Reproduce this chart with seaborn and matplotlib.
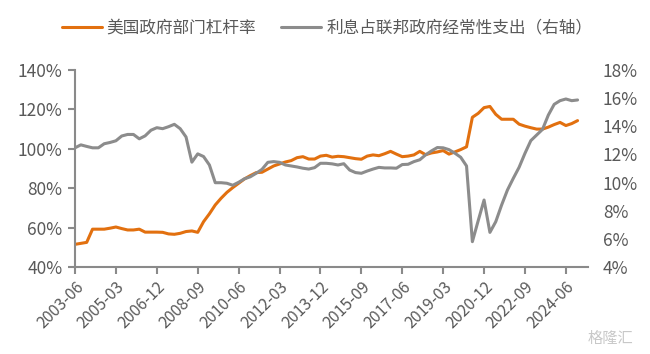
import matplotlib
matplotlib.use("Agg")
import matplotlib.pyplot as plt
import seaborn as sns
import pandas as pd
import numpy as np

# ---- data ----
quarters = [str(p.end_time.date())[:7] for p in pd.period_range("2003Q2", "2024Q4", freq="Q")]

leverage = [51.5, 52, 52.5, 59.2, 59.2, 59.2, 59.7, 60.3, 59.5, 58.8,
            58.8, 59.2, 57.7, 57.7, 57.7, 57.6, 56.8, 56.6, 57.1, 58,
            58.3, 57.6, 63, 67, 71.5, 74.9, 77.9, 80.3, 82.5, 84.7,
            86.4, 87.9, 88.1, 89.7, 91.3, 92.3, 93.3, 94, 95.5, 96,
            94.8, 94.8, 96.3, 96.7, 95.8, 96.2, 96.0, 95.5, 95.0, 94.7,
            96.3, 96.9, 96.5, 97.5, 98.7, 97.3, 96.0, 96.3, 96.9, 98.7,
            97.0, 97.9, 98.4, 99.1, 97.3, 98.4, 99.6, 101, 116, 118,
            120.9, 121.5, 117.5, 115, 115, 115, 112.5, 111.5, 110.7, 110,
            110, 111, 112.3, 113.4, 111.8, 112.8, 114.3]

interest_share = [12.47, 12.68, 12.57, 12.47, 12.47, 12.76, 12.85, 12.97, 13.31, 13.42,
                  13.42, 13.11, 13.32, 13.72, 13.90, 13.83, 13.97, 14.14, 13.83, 13.24,
                  11.45, 12.04, 11.85, 11.25, 9.99, 9.99, 9.95, 9.81, 10.02, 10.27,
                  10.41, 10.66, 10.94, 11.44, 11.49, 11.44, 11.25, 11.18, 11.11, 11.02,
                  10.96, 11.06, 11.37, 11.37, 11.33, 11.25, 11.34, 10.89, 10.71, 10.66,
                  10.82, 10.96, 11.08, 11.04, 11.04, 11.02, 11.28, 11.30, 11.49, 11.62,
                  11.97, 12.25, 12.49, 12.47, 12.34, 12.09, 11.8, 11.18, 5.8, 7.3,
                  8.76, 6.46, 7.22, 8.4, 9.47, 10.3, 11.09, 12.08, 12.98, 13.38,
                  13.78, 14.8, 15.56, 15.82, 15.94, 15.82, 15.87]

label_left = "美国政府部门杠杆率"
label_right = "利息占联邦政府经常性支出（右轴）"
tick_step = 7

# ---- style ----
sns.set_theme(style="white")
plt.rcParams["font.family"] = ["Noto Sans CJK SC", "DejaVu Sans"]

ORANGE = "#E2700F"
GRAY = "#8C8C8C"
TEXT = "#595959"
AXIS = "#8A8A8A"

df = pd.DataFrame({"idx": np.arange(len(quarters)), "q": quarters,
                   "lev": leverage, "int": interest_share})

fig = plt.figure(figsize=(6.5, 3.54), dpi=100)
ax = fig.add_axes([75/650, 1-267/354, (587.5-75)/650, (267-70)/354])
ax2 = ax.twinx()

sns.lineplot(data=df, x="idx", y="lev", ax=ax, color=ORANGE, linewidth=2.2, label=label_left, legend=False)
sns.lineplot(data=df, x="idx", y="int", ax=ax2, color=GRAY, linewidth=2.2, label=label_right, legend=False)

ax.set_xlim(0, 87.7)
ax.set_ylim(40, 140)
ax2.set_ylim(4, 18)
ax.set_yticks(range(40, 141, 20))
ax.set_yticklabels([f"{v}%" for v in range(40, 141, 20)])
ax2.set_yticks(range(4, 19, 2))
ax2.set_yticklabels([f"{v}%" for v in range(4, 19, 2)])

tick_pos = list(range(0, len(quarters), tick_step))
ax.set_xticks(tick_pos)
ax.set_xticklabels([quarters[i] for i in tick_pos], rotation=45, ha="right",
                   rotation_mode="anchor")
ax.set_xlabel("")
ax.set_ylabel("")
ax2.set_ylabel("")

for a in (ax, ax2):
    for s in a.spines.values():
        s.set_visible(False)
ax.spines["left"].set_visible(True)
ax.spines["bottom"].set_visible(True)
ax.spines["left"].set_color(AXIS)
ax.spines["bottom"].set_color(AXIS)
ax.spines["left"].set_linewidth(1.5)
ax.spines["bottom"].set_linewidth(1.5)

ax.tick_params(axis="x", direction="out", length=5, width=1.5, color=AXIS,
               labelsize=11.5, labelcolor=TEXT, pad=3, bottom=True)
ax.tick_params(axis="y", direction="out", length=5, width=1.5, color=AXIS,
               labelsize=12.5, labelcolor=TEXT, pad=4, left=True)
ax2.tick_params(axis="y", length=0, labelsize=12.5, labelcolor=TEXT, pad=11, right=False)
ax.grid(False)
ax2.grid(False)

h1, l1 = ax.get_legend_handles_labels()
h2, l2 = ax2.get_legend_handles_labels()
fig.legend(h1 + h2, l1 + l2, loc="center", bbox_to_anchor=(327/650, 1-28/354), ncol=2,
           frameon=False, fontsize=12, handlelength=2.4, columnspacing=1.5,
           handletextpad=0.3, labelcolor=TEXT)

fig.text(0.975, 0.045, "格隆汇", ha="right", va="center", fontsize=11, color="#C8C8C8")

fig.savefig("out.png", dpi=100, facecolor="white")
